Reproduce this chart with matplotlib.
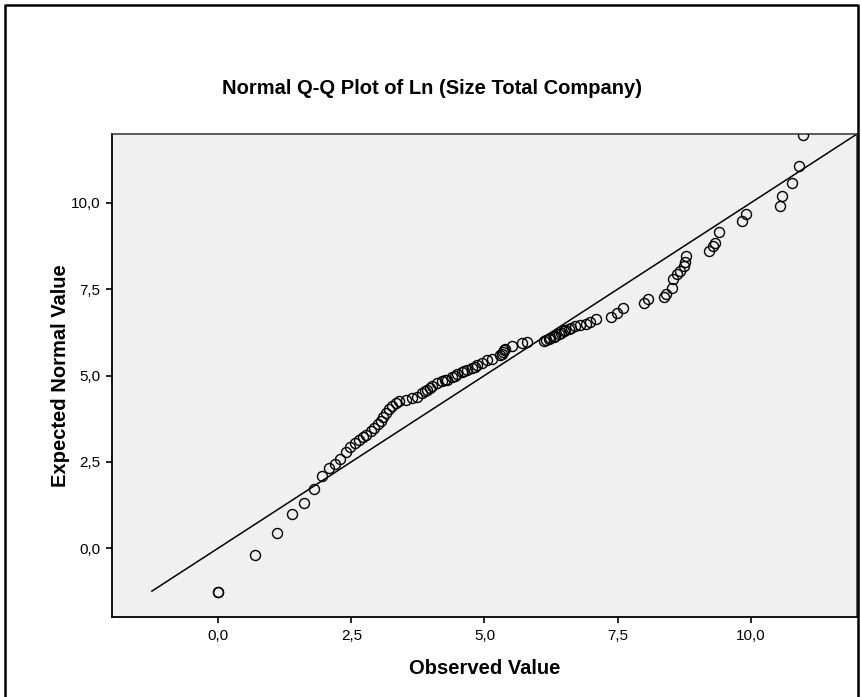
import matplotlib
matplotlib.use("Agg")
import matplotlib.pyplot as plt
from matplotlib.ticker import FuncFormatter, FixedLocator
from matplotlib.lines import Line2D

plt.rcParams['font.family'] = ['Liberation Sans', 'DejaVu Sans']

title = "Normal Q-Q Plot of Ln (Size Total Company)"
x_label = "Observed Value"
y_label = "Expected Normal Value"
ticks = [0.0, 2.5, 5.0, 7.5, 10.0]

observed = [0.00, 0.00, 0.69, 1.10, 1.39, 1.61, 1.79, 1.95, 2.08, 2.20,
            2.29, 2.40, 2.48, 2.56, 2.64, 2.71, 2.78, 2.86, 2.92, 3.00,
            3.05, 3.10, 3.15, 3.20, 3.26, 3.33, 3.39, 3.52, 3.64, 3.73,
            3.83, 3.88, 3.92, 3.97, 4.02, 4.11, 4.20, 4.25, 4.30, 4.39,
            4.44, 4.49, 4.58, 4.62, 4.67, 4.77, 4.82, 4.86, 4.96, 5.05,
            5.14, 5.30, 5.33, 5.35, 5.37, 5.39, 5.52, 5.71, 5.79, 6.11,
            6.15, 6.21, 6.24, 6.30, 6.33, 6.40, 6.43, 6.49, 6.52, 6.58,
            6.62, 6.71, 6.80, 6.90, 6.99, 7.09, 7.37, 7.49, 7.61, 8.00,
            8.07, 8.37, 8.42, 8.53, 8.55, 8.62, 8.68, 8.74, 8.76, 8.78,
            9.22, 9.30, 9.34, 9.40, 9.84, 9.91, 10.55, 10.60, 10.78, 10.91,
            10.99]

expected = [-1.28, -1.28, -0.21, 0.43, 0.99, 1.30, 1.72, 2.09, 2.32, 2.44,
            2.58, 2.77, 2.93, 3.04, 3.14, 3.22, 3.28, 3.38, 3.48, 3.58,
            3.67, 3.80, 3.91, 4.03, 4.13, 4.21, 4.25, 4.30, 4.34, 4.38,
            4.50, 4.55, 4.59, 4.64, 4.69, 4.77, 4.83, 4.86, 4.88, 4.95,
            4.99, 5.03, 5.10, 5.13, 5.17, 5.22, 5.26, 5.29, 5.35, 5.44,
            5.49, 5.58, 5.63, 5.68, 5.73, 5.78, 5.85, 5.93, 5.97, 6.00,
            6.02, 6.05, 6.08, 6.12, 6.15, 6.20, 6.23, 6.28, 6.31, 6.36,
            6.39, 6.43, 6.46, 6.50, 6.55, 6.65, 6.71, 6.80, 6.95, 7.11,
            7.21, 7.28, 7.35, 7.55, 7.79, 7.94, 8.03, 8.16, 8.28, 8.47,
            8.61, 8.74, 8.84, 9.15, 9.49, 9.68, 9.92, 10.19, 10.57, 11.08,
            11.98]

ref_line_x = [-1.25, 12.0]
ref_line_y = [-1.25, 12.0]

fig = plt.figure(figsize=(8.62, 6.97), dpi=100)
fig.patch.set_facecolor('white')
ax = fig.add_axes([112/862, 1 - 617/697, (857-112)/862, (617-134)/697])
ax.set_facecolor('#f0f0f0')

ax.plot(ref_line_x, ref_line_y, color='black', lw=1.1, zorder=2)
ax.plot(observed, expected, linestyle='none', marker='o', markersize=7.2,
        markerfacecolor='none', markeredgecolor='black', markeredgewidth=1.0, zorder=3)

ax.set_xlim(-2, 12)
ax.set_ylim(-2, 12)
ax.xaxis.set_major_locator(FixedLocator(ticks))
ax.yaxis.set_major_locator(FixedLocator(ticks))
fmt = FuncFormatter(lambda v, p: f"{v:.1f}".replace('.', ','))
ax.xaxis.set_major_formatter(fmt)
ax.yaxis.set_major_formatter(fmt)
ax.tick_params(direction='out', length=4.5, width=1.2, labelsize=11, colors='black', pad=4)

for s in ['left', 'bottom']:
    ax.spines[s].set_linewidth(1.3)
    ax.spines[s].set_color('black')
for s in ['top', 'right']:
    ax.spines[s].set_linewidth(1.2)
    ax.spines[s].set_color('#404040')

ax.set_xlabel(x_label, fontsize=14.5, fontweight='bold')
ax.set_ylabel(y_label, fontsize=14.5, fontweight='bold')
ax.xaxis.set_label_coords(0.5, (617 - 668) / 483)
ax.yaxis.set_label_coords((60 - 112) / 745, 0.5)
ax.xaxis.label.set_va('center')
ax.yaxis.label.set_va('center')
fig.text(432/862, 1 - 88/697, title, fontsize=14.5, fontweight='bold', ha='center', va='center')

# outer frame
fx = [5/862, 5/862, 858/862, 858/862]
fy = [0, 1 - 5/697, 1 - 5/697, 0]
fig.add_artist(Line2D(fx, fy, transform=fig.transFigure, color='black', lw=1.8))

fig.savefig('out.png', dpi=100)
